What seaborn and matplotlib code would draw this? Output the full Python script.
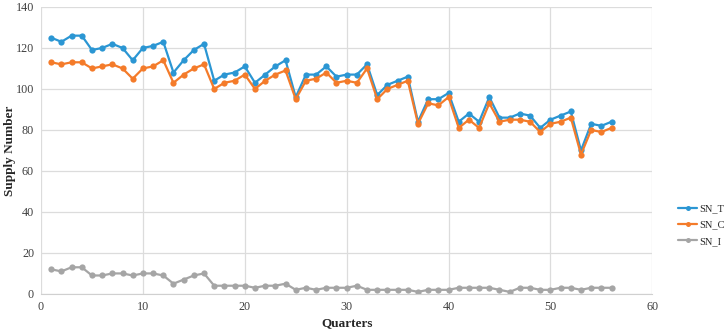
import pandas as pd
import numpy as np
import matplotlib.pyplot as plt
import seaborn as sns

quarters = list(range(1, 57))

sn_t = [125, 123, 126, 126, 119, 120, 122, 120, 114, 120,
        121, 123, 108, 114, 119, 122, 104, 107, 108, 111,
        103, 107, 111, 114, 96, 107, 107, 111, 106, 107,
        107, 112, 97, 102, 104, 106, 84, 95, 95, 98,
        84, 88, 84, 96, 86, 86, 88, 87, 81, 85,
        87, 89, 70, 83, 82, 84]

sn_c = [113, 112, 113, 113, 110, 111, 112, 110, 105, 110,
        111, 114, 103, 107, 110, 112, 100, 103, 104, 107,
        100, 104, 107, 109, 95, 104, 105, 108, 103, 104,
        103, 110, 95, 100, 102, 104, 83, 93, 92, 96,
        81, 85, 81, 93, 84, 85, 85, 84, 79, 83,
        84, 86, 68, 80, 79, 81]

sn_i = [12, 11, 13, 13, 9, 9, 10, 10, 9, 10,
        10, 9, 5, 7, 9, 10, 4, 4, 4, 4,
        3, 4, 4, 5, 2, 3, 2, 3, 3, 3,
        4, 2, 2, 2, 2, 2, 1, 2, 2, 2,
        3, 3, 3, 3, 2, 1, 3, 3, 2, 2,
        3, 3, 2, 3, 3, 3]

series_names = ['SN_T', 'SN_C', 'SN_I']
colors = ['#2b96d3', '#f47b2a', '#a5a5a5']

df = pd.DataFrame({
    'Quarters': quarters * 3,
    'Supply Number': sn_t + sn_c + sn_i,
    'series': ['SN_T'] * 56 + ['SN_C'] * 56 + ['SN_I'] * 56,
})

sns.set_style('white')
plt.rcParams['font.family'] = ['Liberation Serif', 'DejaVu Serif']

fig = plt.figure(figsize=(7.26, 3.31), dpi=100)
ax = fig.add_axes([0.0565, 0.112, 0.842, 0.867])

sns.lineplot(data=df, x='Quarters', y='Supply Number', hue='series',
             hue_order=series_names, palette=colors, marker='o',
             markersize=4.5, markeredgewidth=0, linewidth=1.6, ax=ax)

ax.set_xlim(0, 60)
ax.set_ylim(0, 140)
ax.set_xticks(np.arange(0, 61, 10))
ax.set_yticks(np.arange(0, 141, 20))
ax.grid(True, color='#dcdcdc', linewidth=0.9)
ax.set_axisbelow(True)
for side in ['top', 'right', 'left']:
    ax.spines[side].set_visible(False)
ax.spines['bottom'].set_color('#d0d0d0')
ax.tick_params(axis='both', length=0, labelsize=8.7, colors='#404040', pad=5)

ax.set_xlabel('Quarters', fontsize=9.5, fontweight='bold', labelpad=3)
ax.set_ylabel('Supply Number', fontsize=9.5, fontweight='bold')
ax.yaxis.set_label_coords(-0.041, 0.5)

ax.legend(loc='center left', bbox_to_anchor=(1.036, 0.24), frameon=False,
          borderaxespad=0, fontsize=7.5, handlelength=1.8, handletextpad=0.15,
          labelspacing=0.65, markerscale=0.8)

plt.savefig('out.png', dpi=100)
